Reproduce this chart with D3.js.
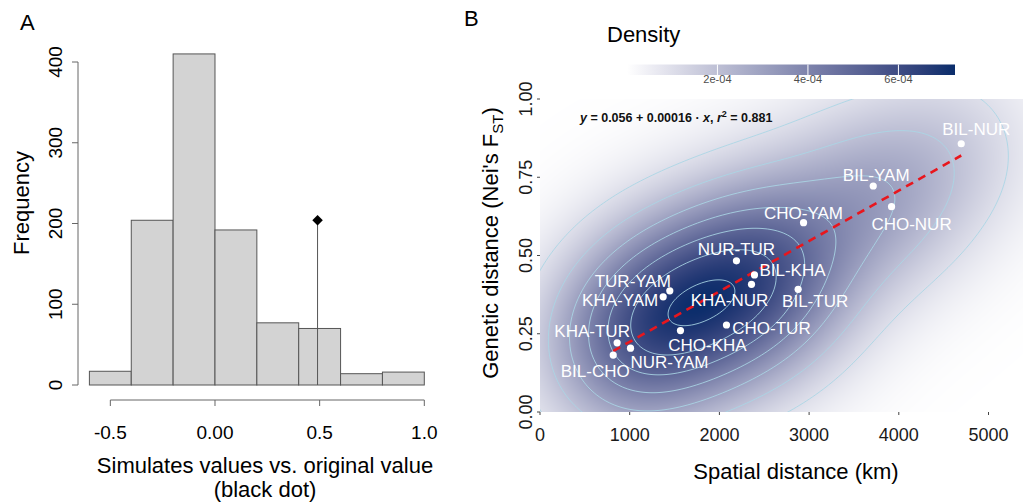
<!DOCTYPE html>
<html>
<head>
<meta charset="utf-8">
<script src="https://cdn.jsdelivr.net/npm/d3@7"></script>
<style>
body { margin: 0; background: #fff; }
svg { display: block; font-family: "Liberation Sans", Arial, Helvetica, sans-serif; }
</style>
</head>
<body>
<svg id="fig" width="1023" height="502"></svg>
<script>
// ---- panel A: histogram of simulated values ----
var histBreaks = [-0.6, -0.4, -0.2, 0, 0.2, 0.4, 0.6, 0.8, 1.0];
var histCounts = [17, 204, 410, 192, 77, 70, 14, 16];
var observedValue = 0.49;
var observedHeight = 204;
var histXTicks = [-0.5, 0, 0.5, 1.0];
var histXTickLabels = ["-0.5", "0.00", "0.5", "1.0"];
var histYTicks = [0, 100, 200, 300, 400];

// ---- panel B: genetic vs spatial distance ----
var pairNames = ["BIL-NUR", "BIL-YAM", "CHO-NUR", "CHO-YAM", "NUR-TUR", "BIL-KHA", "KHA-NUR",
    "BIL-TUR", "TUR-YAM", "KHA-YAM", "CHO-TUR", "CHO-KHA", "KHA-TUR", "NUR-YAM", "BIL-CHO"];
var spatialKm = [4696, 3715, 3919, 2938, 2190, 2391, 2358, 2878, 1447, 1373, 2079, 1566, 860, 1009, 816];
var geneticFst = [0.857, 0.722, 0.656, 0.605, 0.483, 0.438, 0.408, 0.392, 0.387, 0.368, 0.278, 0.260, 0.221, 0.204, 0.182];
var xTicksB = [0, 1000, 2000, 3000, 4000, 5000];
var yTicksB = [0, 0.25, 0.5, 0.75, 1];
var yTickLabelsB = ["0.00", "0.25", "0.50", "0.75", "1.00"];
var densityTicks = [2e-4, 4e-4, 6e-4];
var densityTickLabels = ["2e-04", "4e-04", "6e-04"];
var densityPeak = 7.25e-4;   // top of the colour bar
var contourLevels = [1e-4, 2e-4, 3e-4, 4e-4, 5e-4, 6e-4, 7e-4];

// label offsets from each point (px), like ggrepel output
var labelNudge = {
    "BIL-NUR": [15, -15], "BIL-YAM": [3, -11], "CHO-NUR": [20, 17], "CHO-YAM": [0, -10],
    "NUR-TUR": [0, -12], "BIL-KHA": [38, -5], "KHA-NUR": [-22, 16], "BIL-TUR": [17, 12],
    "TUR-YAM": [-37, -10], "KHA-YAM": [-43, 3], "CHO-TUR": [45, 3], "CHO-KHA": [27, 14],
    "KHA-TUR": [-25, -12], "NUR-YAM": [39, 14], "BIL-CHO": [-18, 16]
};

var svg = d3.select("#fig");
var axisGrey = "#666";

// ================= Panel A =================
var xA = d3.scaleLinear().domain([-0.6, 1.0]).range([89.4, 424.3]);
var yA = d3.scaleLinear().domain([0, 400]).range([385, 62]);

svg.append("text").attr("x", 20).attr("y", 30)
    .style("font-size", "22px").text("A");

var bins = histCounts.map(function(c, i) {
    return {x0: histBreaks[i], x1: histBreaks[i + 1], count: c};
});

svg.append("g").selectAll("rect")
    .data(bins).enter().append("rect")
    .attr("x", function(d) { return xA(d.x0); })
    .attr("width", function(d) { return xA(d.x1) - xA(d.x0); })
    .attr("y", function(d) { return yA(d.count); })
    .attr("height", function(d) { return yA(0) - yA(d.count); })
    .attr("fill", "#d3d3d3")
    .attr("stroke", "#555")
    .attr("stroke-width", 1);

// observed value: line + diamond
svg.append("line")
    .attr("x1", xA(observedValue)).attr("x2", xA(observedValue))
    .attr("y1", yA(0)).attr("y2", yA(observedHeight))
    .attr("stroke", "#555").attr("stroke-width", 1);
svg.append("path")
    .attr("d", d3.symbol().type(d3.symbolDiamond2).size(70)())
    .attr("transform", "translate(" + xA(observedValue) + "," + yA(observedHeight) + ")")
    .attr("fill", "#000");

// y axis (R style)
var gyA = svg.append("g").attr("transform", "translate(78,0)");
gyA.append("line").attr("x1", 0).attr("x2", 0)
    .attr("y1", yA(0)).attr("y2", yA(400))
    .attr("stroke", axisGrey);
gyA.selectAll("line.tk").data(histYTicks).enter().append("line")
    .attr("class", "tk")
    .attr("x1", -6).attr("x2", 0)
    .attr("y1", function(d) { return yA(d); }).attr("y2", function(d) { return yA(d); })
    .attr("stroke", axisGrey);
gyA.selectAll("text").data(histYTicks).enter().append("text")
    .attr("transform", function(d) { return "translate(-16," + yA(d) + ") rotate(-90)"; })
    .attr("text-anchor", "middle")
    .style("font-size", "19px")
    .text(function(d) { return d; });

// x axis
var gxA = svg.append("g").attr("transform", "translate(0,400)");
gxA.append("line")
    .attr("x1", xA(histXTicks[0])).attr("x2", xA(histXTicks[histXTicks.length - 1]))
    .attr("stroke", axisGrey);
gxA.selectAll("line.tk").data(histXTicks).enter().append("line")
    .attr("class", "tk")
    .attr("x1", function(d) { return xA(d); }).attr("x2", function(d) { return xA(d); })
    .attr("y1", 0).attr("y2", 6)
    .attr("stroke", axisGrey);
gxA.selectAll("text").data(histXTicks).enter().append("text")
    .attr("x", function(d) { return xA(d); })
    .attr("y", 39)
    .attr("text-anchor", "middle")
    .style("font-size", "19px")
    .text(function(d, i) { return histXTickLabels[i]; });

svg.append("text")
    .attr("transform", "translate(29,203) rotate(-90)")
    .attr("text-anchor", "middle")
    .style("font-size", "22px")
    .text("Frequency");
svg.append("text").attr("x", 265).attr("y", 473)
    .attr("text-anchor", "middle").style("font-size", "22px")
    .text("Simulates values vs. original value");
svg.append("text").attr("x", 265).attr("y", 497)
    .attr("text-anchor", "middle").style("font-size", "22px")
    .text("(black dot)");

// ================= Panel B =================
var panel = {left: 540, top: 99, right: 1023, bottom: 412};
var xB = d3.scaleLinear().domain([0, 5400]).range([540, 540 + 5400 * 0.0897]);
var yB = d3.scaleLinear().domain([0, 1]).range([panel.bottom, panel.top]);

svg.append("text").attr("x", 464).attr("y", 26)
    .style("font-size", "22px").text("B");

// 2d kernel density, normal-reference bandwidth (y widened to match the figure)
function bandwidthNrd(v) {
    var s = d3.deviation(v);
    var iqr = d3.quantile(v, 0.75) - d3.quantile(v, 0.25);
    return 4 * 1.06 * Math.min(s, iqr / 1.34) * Math.pow(v.length, -0.2);
}
var hx = bandwidthNrd(spatialKm) / 4 * 1.0;
var hy = bandwidthNrd(geneticFst) / 4 * 1.7;
var nPts = spatialKm.length;
function kernelSum(xk, yv) {
    var s = 0;
    for (var i = 0; i < nPts; i++) {
        var a = (xk - spatialKm[i]) / hx, b = (yv - geneticFst[i]) / hy;
        s += Math.exp(-0.5 * (a * a + b * b));
    }
    return s;
}

var pw = panel.right - panel.left, ph = panel.bottom - panel.top;
var raster = new Float64Array(pw * ph);
var kMax = 0;
for (var j = 0; j < ph; j++) {
    for (var i = 0; i < pw; i++) {
        var v = kernelSum(xB.invert(panel.left + i + 0.5), yB.invert(panel.top + j + 0.5));
        raster[j * pw + i] = v;
        if (v > kMax) kMax = v;
    }
}
var norm = densityPeak / kMax;
var dMin = Infinity, dMax = -Infinity;
for (var k0 = 0; k0 < raster.length; k0++) {
    raster[k0] *= norm;
    if (raster[k0] < dMin) dMin = raster[k0];
    if (raster[k0] > dMax) dMax = raster[k0];
}
function density(xk, yv) { return kernelSum(xk, yv) * norm; }

var fillScale = d3.scaleLinear().domain([dMin, dMax])
    .range(["#ffffff", "#0a2d6b"]).interpolate(d3.interpolateLab);

var canvas = document.createElement("canvas");
canvas.width = pw; canvas.height = ph;
var ctx = canvas.getContext("2d");
var img = ctx.createImageData(pw, ph);
for (var k = 0; k < raster.length; k++) {
    var c = d3.rgb(fillScale(raster[k]));
    img.data[4 * k] = c.r; img.data[4 * k + 1] = c.g; img.data[4 * k + 2] = c.b; img.data[4 * k + 3] = 255;
}
ctx.putImageData(img, 0, 0);

svg.append("defs").append("clipPath").attr("id", "panelClip")
    .append("rect").attr("x", panel.left).attr("y", panel.top)
    .attr("width", pw).attr("height", ph);

var gB = svg.append("g").attr("clip-path", "url(#panelClip)");
gB.append("image")
    .attr("x", panel.left).attr("y", panel.top)
    .attr("width", pw).attr("height", ph)
    .attr("href", canvas.toDataURL());

// contour lines on a padded grid
var step = 2, pad = 24;
var gx0 = panel.left - pad, gy0 = panel.top - pad;
var nx = Math.ceil((pw + 2 * pad) / step), ny = Math.ceil((ph + 2 * pad) / step);
var grid = new Float64Array(nx * ny);
for (var gj = 0; gj < ny; gj++) {
    for (var gi = 0; gi < nx; gi++) {
        grid[gj * nx + gi] = density(xB.invert(gx0 + gi * step), yB.invert(gy0 + gj * step));
    }
}
var contours = d3.contours().size([nx, ny]).thresholds(contourLevels)(grid);
var contourPath = d3.geoPath(d3.geoIdentity().scale(step).translate([gx0 - step / 2, gy0 - step / 2]));
gB.append("g").selectAll("path")
    .data(contours).enter().append("path")
    .attr("d", contourPath)
    .attr("fill", "none")
    .attr("stroke", "#a9d6e5")
    .attr("stroke-opacity", 0.85)
    .attr("stroke-width", 1);

// linear regression
var mx = d3.mean(spatialKm), my = d3.mean(geneticFst);
var sxy = d3.sum(spatialKm, function(d, i) { return (d - mx) * (geneticFst[i] - my); });
var sxx = d3.sum(spatialKm, function(d) { return (d - mx) * (d - mx); });
var slope = sxy / sxx, intercept = my - slope * mx;
var xExt = d3.extent(spatialKm);
gB.append("line")
    .attr("x1", xB(xExt[0])).attr("y1", yB(intercept + slope * xExt[0]))
    .attr("x2", xB(xExt[1])).attr("y2", yB(intercept + slope * xExt[1]))
    .attr("stroke", "#e8161d").attr("stroke-width", 2.6)
    .attr("stroke-dasharray", "8,6");

// points and labels
gB.append("g").selectAll("circle")
    .data(pairNames).enter().append("circle")
    .attr("cx", function(d, i) { return xB(spatialKm[i]); })
    .attr("cy", function(d, i) { return yB(geneticFst[i]); })
    .attr("r", 3.6)
    .attr("fill", "#fff");
svg.append("g").selectAll("text")
    .data(pairNames).enter().append("text")
    .attr("x", function(d, i) { return xB(spatialKm[i]) + labelNudge[d][0]; })
    .attr("y", function(d, i) { return yB(geneticFst[i]) + labelNudge[d][1] + 6; })
    .attr("text-anchor", "middle")
    .attr("fill", "#fff")
    .style("font-size", "17px")
    .text(function(d) { return d; });

// axes B
var tickCol = "#444";
var gxB = svg.append("g");
gxB.selectAll("line").data(xTicksB).enter().append("line")
    .attr("x1", function(d) { return xB(d); }).attr("x2", function(d) { return xB(d); })
    .attr("y1", panel.bottom).attr("y2", panel.bottom + 3)
    .attr("stroke", tickCol);
gxB.selectAll("text").data(xTicksB).enter().append("text")
    .attr("x", function(d) { return xB(d); })
    .attr("y", 441)
    .attr("text-anchor", "middle")
    .attr("fill", "#1a1a1a")
    .style("font-size", "18px")
    .text(function(d) { return d; });
var gyB = svg.append("g");
gyB.selectAll("line").data(yTicksB).enter().append("line")
    .attr("x1", panel.left - 3).attr("x2", panel.left)
    .attr("y1", function(d) { return yB(d); }).attr("y2", function(d) { return yB(d); })
    .attr("stroke", tickCol);
gyB.selectAll("text").data(yTicksB).enter().append("text")
    .attr("transform", function(d) { return "translate(532," + yB(d) + ") rotate(-90)"; })
    .attr("text-anchor", "middle")
    .attr("fill", "#1a1a1a")
    .style("font-size", "18px")
    .text(function(d, i) { return yTickLabelsB[i]; });

svg.append("text").attr("x", 796).attr("y", 479)
    .attr("text-anchor", "middle").style("font-size", "22px")
    .text("Spatial distance (km)");
var yLab = svg.append("text")
    .attr("transform", "translate(498,243) rotate(-90)")
    .attr("text-anchor", "middle")
    .style("font-size", "22px");
yLab.append("tspan").text("Genetic distance (Nei's F");
yLab.append("tspan").attr("dy", 5).style("font-size", "15px").text("ST");
yLab.append("tspan").attr("dy", -5).text(")");

// regression equation
var eq = svg.append("text").attr("x", 580).attr("y", 122)
    .style("font-size", "12.5px").style("font-weight", "bold").attr("fill", "#111");
eq.append("tspan").style("font-style", "italic").text("y");
eq.append("tspan").text(" = 0.056 + 0.00016 \u00b7 ");
eq.append("tspan").style("font-style", "italic").text("x");
eq.append("tspan").text(",  ");
eq.append("tspan").style("font-style", "italic").text("r");
eq.append("tspan").attr("dy", -5).style("font-size", "9px").text("2");
eq.append("tspan").attr("dy", 5).text(" = 0.881");

// density legend
svg.append("text").attr("x", 607).attr("y", 42)
    .style("font-size", "22px").text("Density");
var legX = d3.scaleLinear().domain([dMin, dMax]).range([627, 955]);
var grad = svg.select("defs").append("linearGradient").attr("id", "densGrad");
d3.range(0, 1.0001, 0.1).forEach(function(t) {
    grad.append("stop").attr("offset", t)
        .attr("stop-color", fillScale(dMin + t * (dMax - dMin)));
});
svg.append("rect").attr("x", 627).attr("y", 64.5)
    .attr("width", 328).attr("height", 10.5)
    .attr("fill", "url(#densGrad)");
svg.append("g").selectAll("line").data(densityTicks).enter().append("line")
    .attr("x1", function(d) { return legX(d); }).attr("x2", function(d) { return legX(d); })
    .attr("y1", 64.5).attr("y2", 75)
    .attr("stroke", "#fff").attr("stroke-width", 1);
svg.append("g").selectAll("text").data(densityTicks).enter().append("text")
    .attr("x", function(d) { return legX(d); })
    .attr("y", 83)
    .attr("text-anchor", "middle")
    .attr("fill", "#4d4d4d")
    .style("font-size", "11px")
    .text(function(d, i) { return densityTickLabels[i]; });
</script>
</body>
</html>
